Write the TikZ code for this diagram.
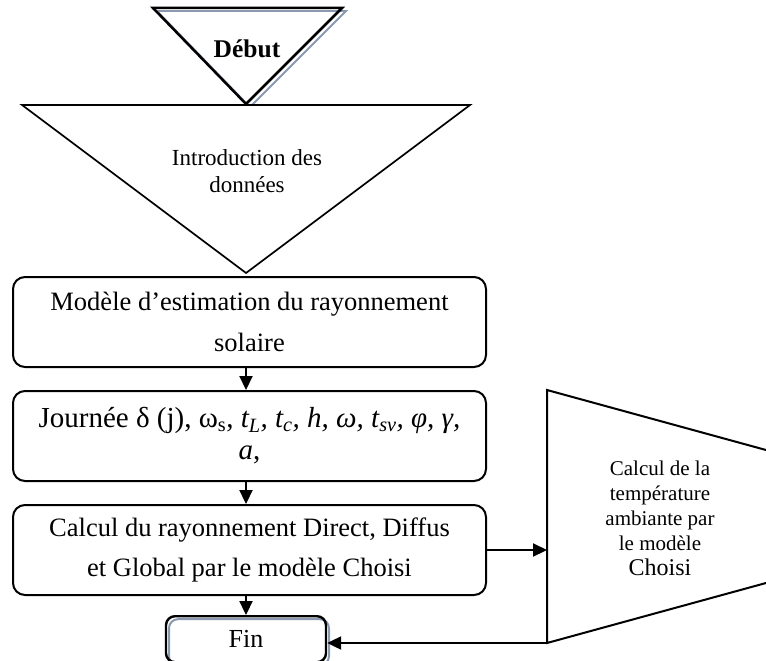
\documentclass[tikz,border=0pt]{standalone}
\usepackage{fontspec}
\setmainfont{Liberation Serif}
\usetikzlibrary{
    arrows.meta,
    positioning,
    backgrounds
}
\tikzset{
  block/.style   = {draw, rounded corners=12pt, line width=2pt, minimum width=473pt,
                    minimum height=90pt, align=center, inner sep=0pt},
  endblock/.style = {draw, rounded corners=9pt, line width=2.4pt, minimum width=160pt,
                    minimum height=46pt, inner sep=0pt},
  tri/.style     = {draw, line width=1.7pt, line join=miter},
  arr/.style     = {-{Triangle[length=14pt,width=13pt]}, line width=2.2pt}
}
\definecolor{ShadowGray}{RGB}{138,152,176}

\begin{document}
\begin{tikzpicture}[
    x=1pt, y=-1pt,
    lbl/.style={align=center, inner sep=0pt},
    node distance=22pt
]
\useasboundingbox (0,0) rectangle (766,661);

% start and input triangles
\draw[ShadowGray, line width=1.8pt] (157,11) -- (346,11) -- (250,107) -- cycle;
\draw[tri, line width=2.5pt] (153,8) -- (342,8) -- (246,104) -- cycle;
\node[lbl, font=\fontsize{25.5}{30}\selectfont\bfseries] (debut) at (247,49) {Début};
\draw[tri, fill=white] (22,105) -- (470,105) -- (246,273) -- cycle;
\node[lbl, font=\fontsize{23}{27}\selectfont] (intro) at (247,171)
    {Introduction des\\données};

% main column
\node[block, font=\fontsize{26.5}{41}\selectfont] (model) at (249.5,322)
    {Modèle d’estimation du rayonnement\\solaire};
\node[block, below=of model, font=\fontsize{29}{32}\selectfont] (day)
    {Journée δ (j), ω\textsubscript{s}, \textit{t\textsubscript{L}, t\textsubscript{c},
     h, ω, t\textsubscript{sv}, φ, γ,}\\\textit{a},};
\node[block, below=of day, font=\fontsize{26.5}{40}\selectfont] (calc)
    {Calcul du rayonnement Direct, Diffus\\et Global par le modèle Choisi};
\node[endblock, below=19pt of calc, xshift=-3.5pt, font=\fontsize{26}{30}\selectfont] (fin) {Fin};
\begin{scope}[on background layer]
\node[endblock, draw=ShadowGray, line width=2pt] (finshadow) at ([shift={(3,3)}]fin.center) {};
\end{scope}

% temperature block
\draw[line width=2pt] (766,450) -- (547,390) -- (547,643) -- (766,583);
\coordinate (tempin) at (547,390);
\coordinate (tempout) at (547,643);
\node[lbl, font=\fontsize{21}{25}\selectfont] (temp) at (660,518)
    {Calcul de la\\température\\ambiante par\\le modèle\\{\fontsize{24}{25}\selectfont Choisi}};

\draw[arr] (model.south -| fin) -- (day.north -| fin);
\draw[arr] (day.south -| fin) -- (calc.north -| fin);
\draw[arr] (calc.south -| fin) -- (fin);
\draw[arr] (calc.east) -- (calc.east -| tempin);
\draw[arr] (tempout) -- (tempout -| fin.east);
\end{tikzpicture}
\end{document}
